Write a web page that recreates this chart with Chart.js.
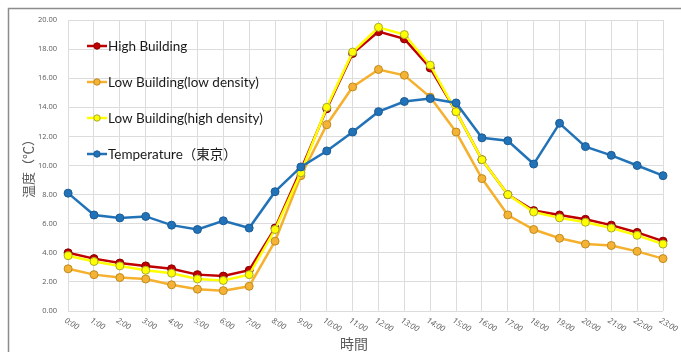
<!DOCTYPE html>
<html>
<head>
<meta charset="utf-8">
<script src="https://cdn.jsdelivr.net/npm/chart.js@4/dist/chart.umd.min.js"></script>
<style>
  html, body { margin: 0; padding: 0; background: #ffffff; }
  #wrap { width: 681px; height: 352px; position: relative; }
</style>
</head>
<body>
<div id="wrap"><canvas id="c" width="681" height="352"></canvas></div>
<script>
const categories = ["0:00","1:00","2:00","3:00","4:00","5:00","6:00","7:00","8:00","9:00","10:00","11:00","12:00","13:00","14:00","15:00","16:00","17:00","18:00","19:00","20:00","21:00","22:00","23:00"];
const seriesNames = ["High Building", "Low Building(low density)", "Low Building(high density)", "Temperature（東京）"];
const highBuilding = [4.0,3.6,3.3,3.1,2.9,2.5,2.4,2.8,5.7,9.7,13.9,17.7,19.2,18.7,16.7,13.7,10.4,8.0,6.9,6.6,6.3,5.9,5.4,4.8];
const lowBuildingLow = [2.9,2.5,2.3,2.2,1.8,1.5,1.4,1.7,4.8,9.3,12.8,15.4,16.6,16.2,14.7,12.3,9.1,6.6,5.6,5.0,4.6,4.5,4.1,3.6];
const lowBuildingHigh = [3.8,3.4,3.1,2.8,2.6,2.2,2.1,2.5,5.6,9.5,14.0,17.8,19.5,19.0,16.9,13.7,10.4,8.0,6.8,6.4,6.1,5.7,5.2,4.6];
const temperatureTokyo = [8.1,6.6,6.4,6.5,5.9,5.6,6.2,5.7,8.2,9.9,11.0,12.3,13.7,14.4,14.6,14.3,11.9,11.7,10.1,12.9,11.3,10.7,10.0,9.3];
const yTicks = [0,2,4,6,8,10,12,14,16,18,20];
const yTitle = "温度（℃）";
const xTitle = "時間";

const GRAY = "#595959";

const framePlugin = {
  id: "frame",
  beforeDraw(chart) {
    const ctx = chart.ctx;
    ctx.save();
    ctx.fillStyle = "#ffffff";
    ctx.fillRect(0, 0, chart.width, chart.height);
    ctx.strokeStyle = "#8c8c8c";
    ctx.lineWidth = 1.5;
    ctx.beginPath();
    ctx.moveTo(8.5, chart.height);
    ctx.lineTo(8.5, 8.5);
    ctx.lineTo(chart.width, 8.5);
    ctx.stroke();
    ctx.restore();
  }
};

const labelPlugin = {
  id: "axislabels",
  afterDraw(chart) {
    const ctx = chart.ctx;
    const xs = chart.scales.x;
    const area = chart.chartArea;
    ctx.save();
    ctx.fillStyle = GRAY;
    ctx.font = "italic 8px 'Open Sans', sans-serif";
    ctx.textAlign = "left";
    ctx.textBaseline = "middle";
    categories.forEach((lab, i) => {
      const x = xs.getPixelForTick(i);
      ctx.save();
      ctx.translate(x - 3, area.bottom + 9);
      ctx.rotate(30 * Math.PI / 180);
      ctx.fillText(lab, 0, 0);
      ctx.restore();
    });
    ctx.font = "14px 'Noto Sans CJK JP', sans-serif";
    ctx.textAlign = "center";
    ctx.textBaseline = "middle";
    ctx.fillText(xTitle, 354, 344);
    // y title
    ctx.save();
    ctx.translate(28, (area.top + area.bottom) / 2);
    ctx.rotate(-Math.PI / 2);
    ctx.font = "13px 'Noto Sans CJK JP', sans-serif";
    ctx.textAlign = "center";
    ctx.textBaseline = "middle";
    ctx.fillText(yTitle, 0, 0);
    ctx.restore();
    ctx.restore();
  }
};

const legendPlugin = {
  id: "inlegend",
  afterDatasetsDraw(chart) {
    const ctx = chart.ctx;
    const ys = [46, 82, 118, 154];
    ctx.save();
    chart.data.datasets.forEach((ds, i) => {
      const y = ys[i];
      ctx.strokeStyle = ds.borderColor;
      ctx.lineWidth = 2.5;
      ctx.beginPath();
      ctx.moveTo(87, y);
      ctx.lineTo(107, y);
      ctx.stroke();
      ctx.beginPath();
      ctx.arc(97, y, 3.2, 0, Math.PI * 2);
      ctx.fillStyle = ds.pointBackgroundColor;
      ctx.fill();
      ctx.lineWidth = 1;
      ctx.strokeStyle = ds.pointBorderColor;
      ctx.stroke();
      ctx.fillStyle = "#1a1a1a";
      ctx.font = "13.5px Lato, 'Noto Sans CJK JP', sans-serif";
      ctx.textAlign = "left";
      ctx.textBaseline = "middle";
      ctx.fillText(ds.label, 108, y + 0.5);
    });
    ctx.restore();
  }
};

function mk(label, data, line, fill, border, order) {
  return {
    label, data,
    borderColor: line,
    backgroundColor: fill,
    pointBackgroundColor: fill,
    pointBorderColor: border,
    pointBorderWidth: 1,
    pointRadius: 4,
    borderWidth: 2.5,
    tension: 0,
    order
  };
}

new Chart(document.getElementById("c"), {
  type: "line",
  data: {
    labels: categories,
    datasets: [
      mk(seriesNames[0], highBuilding, "#c00000", "#c00000", "#8a0000", 3),
      mk(seriesNames[1], lowBuildingLow, "#f5b02e", "#f5b335", "#c08a1e", 2),
      mk(seriesNames[2], lowBuildingHigh, "#ffff00", "#ffff00", "#a8a830", 1),
      mk(seriesNames[3], temperatureTokyo, "#2272b8", "#2272b8", "#1a5c96", 0)
    ]
  },
  options: {
    responsive: false,
    animation: false,
    devicePixelRatio: 1,
    layout: { padding: { left: 27, right: 18, top: 20, bottom: 41 } },
    plugins: { legend: { display: false }, tooltip: { enabled: false } },
    scales: {
      x: {
        offset: false,
        grid: { color: "#dcdcdc", lineWidth: 1, drawTicks: false },
        border: { display: false },
        ticks: { display: false }
      },
      y: {
        min: 0, max: 20,
        afterBuildTicks(scale) { scale.ticks = yTicks.map(v => ({ value: v })); },
        grid: { color: "#dcdcdc", lineWidth: 1, drawTicks: false },
        border: { display: false },
        ticks: {
          color: GRAY,
          padding: 11,
          font: { size: 7.5, family: "'Open Sans', sans-serif" },
          callback: v => Number(v).toFixed(2)
        },
        title: { display: false }
      }
    }
  },
  plugins: [framePlugin, labelPlugin, legendPlugin]
});
</script>
</body>
</html>
